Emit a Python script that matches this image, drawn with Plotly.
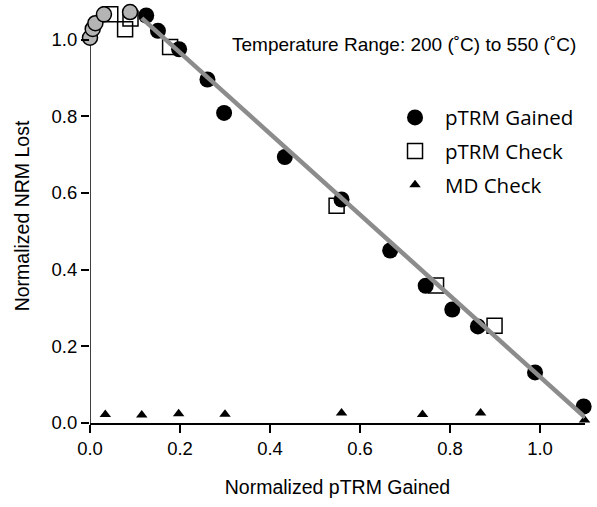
import plotly.graph_objects as go

# Data
gained_x = [0.125, 0.151, 0.198, 0.261, 0.298, 0.433, 0.559, 0.667, 0.746, 0.805, 0.862, 0.989, 1.097]
gained_y = [1.063, 1.023, 0.975, 0.896, 0.809, 0.694, 0.583, 0.450, 0.358, 0.296, 0.252, 0.132, 0.043]

excluded_x = [0.000, 0.006, 0.012, 0.031, 0.089]
excluded_y = [1.005, 1.028, 1.043, 1.066, 1.072]

check_x = [0.045, 0.078, 0.090, 0.178, 0.548, 0.769, 0.899]
check_y = [1.066, 1.027, 1.055, 0.981, 0.567, 0.359, 0.254]

md_x = [0.034, 0.115, 0.197, 0.300, 0.559, 0.739, 0.868, 1.099]
md_y = [0.022, 0.021, 0.024, 0.023, 0.026, 0.022, 0.026, 0.008]

fit_x = [0.115, 1.100]
fit_y = [1.056, 0.015]

x_range = [0, 1.1]
y_range = [0, 1.08]
y_axis_extent = [0, 1.0]

annotation_text = "Temperature Range: 200 (˚C) to 550 (˚C)"

fig = go.Figure()

fig.add_trace(go.Scatter(
    x=check_x, y=check_y, mode="markers", name="pTRM Check",
    marker=dict(symbol="square-open", size=15, color="black", line=dict(width=1.5, color="black")),
    cliponaxis=False, legendrank=2, legendgroup="b"))

fig.add_trace(go.Scatter(
    x=excluded_x, y=excluded_y, mode="markers", name="excluded", showlegend=False,
    marker=dict(symbol="circle", size=15, color="#b4b4b4", line=dict(width=1.5, color="black")),
    cliponaxis=False))

fig.add_trace(go.Scatter(
    x=gained_x, y=gained_y, mode="markers", name="pTRM Gained",
    marker=dict(symbol="circle", size=16, color="black"),
    cliponaxis=False, legendrank=1, legendgroup="a"))

fig.add_trace(go.Scatter(
    x=md_x, y=md_y, mode="markers", name="MD Check",
    marker=dict(symbol="triangle-up", size=10, color="black"),
    cliponaxis=False, legendrank=3, legendgroup="c"))

fig.add_trace(go.Scatter(
    x=fit_x, y=fit_y, mode="lines", showlegend=False,
    line=dict(color="#8c8c8c", width=4.5), cliponaxis=False))

tick_font = dict(family="Liberation Sans, Arial", size=18.5, color="black")
title_font = dict(family="Liberation Sans, Arial", size=19.5, color="black")

axis_common = dict(
    ticks="outside", ticklen=8, tickwidth=1.5, tickcolor="black",
    showgrid=False, zeroline=False, dtick=0.2, tickformat=".1f",
    tickfont=tick_font,
)

fig.update_layout(
    width=597, height=507,
    margin=dict(l=90, r=12, t=9, b=84),
    paper_bgcolor="white", plot_bgcolor="white",
    xaxis=dict(range=x_range, showline=True, linecolor="black", linewidth=1.5,
               title=dict(text="Normalized pTRM Gained", standoff=22, font=title_font), **axis_common),
    yaxis=dict(range=y_range, showline=False, tickvals=[0, 0.2, 0.4, 0.6, 0.8, 1.0],
               title=dict(text="Normalized NRM Lost", standoff=16, font=title_font), **axis_common),
    legend=dict(x=0.596, y=0.786, xanchor="left", yanchor="top", itemwidth=50,
                font=dict(family="Open Sans", size=20.5, color="black"),
                tracegroupgap=4, bgcolor="rgba(0,0,0,0)"),
    annotations=[dict(text=annotation_text, xref="paper", yref="paper",
                      x=0.283, y=0.914, xanchor="left", yanchor="middle", showarrow=False,
                      font=dict(family="Liberation Sans, Arial", size=19, color="black"))],
    shapes=[dict(type="line", xref="x", yref="y", x0=x_range[0], x1=x_range[0],
                 y0=y_axis_extent[0], y1=y_axis_extent[1], layer="below",
                 line=dict(color="black", width=1.5))],
    showlegend=True,
)

fig.write_html("out.html")
